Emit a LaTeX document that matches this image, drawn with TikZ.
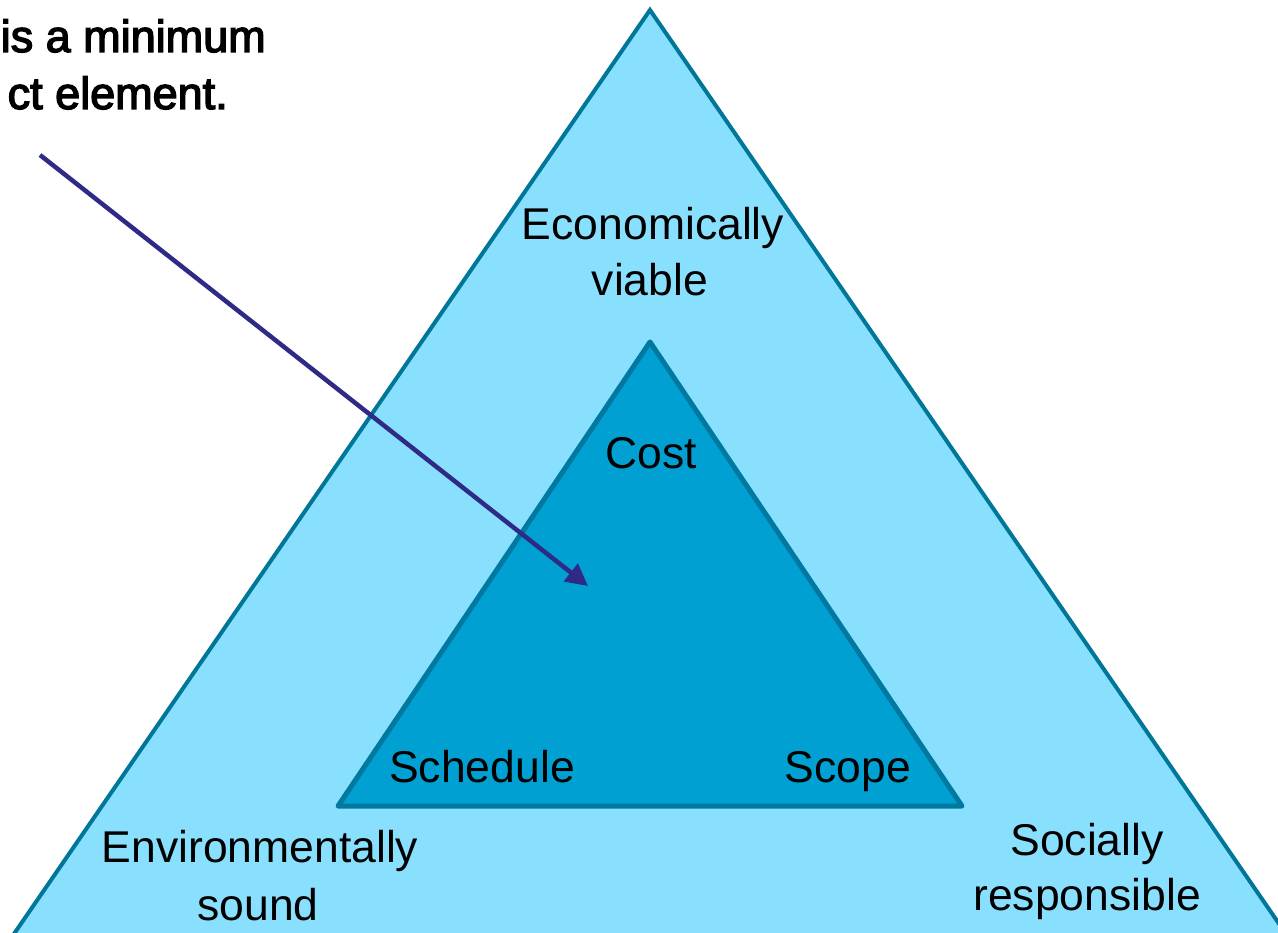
\documentclass[tikz,border=0pt]{standalone}
\usepackage{fontspec}
\setmainfont{Liberation Sans}
\newfontfamily\semibold[FakeBold=3]{Liberation Sans}
\usetikzlibrary{arrows.meta}
\definecolor{outerfill}{HTML}{88E0FE}
\definecolor{outerline}{HTML}{007799}
\definecolor{innerfill}{HTML}{00A0D3}
\definecolor{innerline}{HTML}{00789F}
\definecolor{arrowcol}{HTML}{2E2A85}
\begin{document}
\begin{tikzpicture}[x=1pt,y=-1pt,
  lbl/.style={font=\fontsize{44.5}{56}\selectfont, align=center, inner sep=0pt, anchor=base, text=black},
  toptxt/.style={font=\fontsize{45}{56}\semibold, inner sep=0pt, anchor=base east, text=black}]
\useasboundingbox (0,0) rectangle (1278,933);
\clip (0,0) rectangle (1278,933);
\fill[white] (0,0) rectangle (1278,933);
% outer triangle
\draw[fill=outerfill, draw=outerline, line width=4pt, line join=miter]
  (650,10) -- (-4,960) -- (1304,960) -- cycle;
% inner triangle
\draw[fill=innerfill, draw=innerline, line width=5pt, line join=round]
  (650,342) -- (338,806) -- (962,806) -- cycle;
% labels
\node[lbl] (econ) at (653,240) {Economically};
\node[lbl] (viable) at (650,296) {viable};
\node[lbl] (cost) at (651,468) {Cost};
\node[lbl] (sched) at (482,782) {Schedule};
\node[lbl] (scope) at (848,782) {Scope};
\node[lbl] (env) at (260,862) {Environmentally};
\node[lbl] (sound) at (258,920) {sound};
\node[lbl] (soc) at (1087,855) {Socially};
\node[lbl] (resp) at (1087,910) {responsible};
% top-left text
\node[toptxt] (t1) at (266,52) {is a minimum};
\node[toptxt] (t2) at (228,109) {ct element.};
% arrow
\coordinate (as) at (40,155);
\coordinate (ae) at (588,586);
\draw[arrowcol, line width=4.5pt, -{Triangle[length=22pt,width=22pt]}] (as) -- (ae);
\end{tikzpicture}
\end{document}
